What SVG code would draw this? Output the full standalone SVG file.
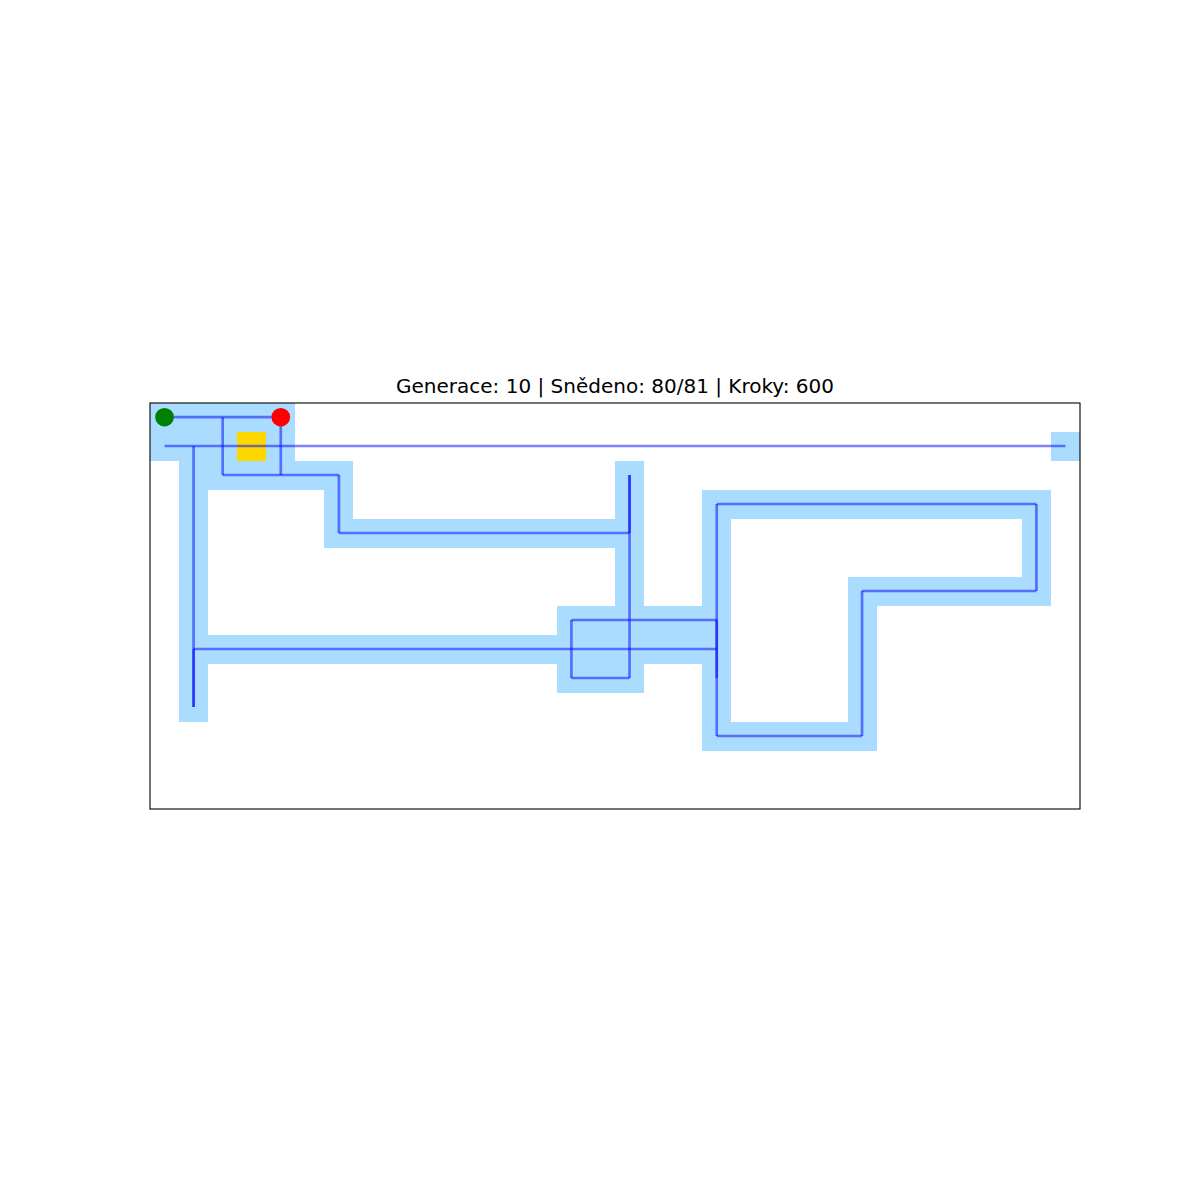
<svg xmlns="http://www.w3.org/2000/svg" width="1200" height="1200" viewBox="0 0 1200 1200">
<style>
.cell{fill:#aadcff;shape-rendering:crispEdges;}
.food{fill:#ffd700;shape-rendering:crispEdges;}
.seg{stroke:#0000ff;stroke-opacity:0.5;stroke-width:2.7;fill:none;stroke-linecap:butt;}
.title{font-family:"DejaVu Sans",sans-serif;font-size:20px;fill:#000;}
</style>
<rect width="1200" height="1200" fill="#fff"/>
<text class="title" x="615" y="393" text-anchor="middle">Generace: 10 | Snědeno: 80/81 | Kroky: 600</text>
<g id="body">
<rect class="cell" x="150" y="403" width="145.31" height="57.5"/>
<rect class="cell" x="1050.94" y="431.5" width="29.06" height="29"/>
<rect class="cell" x="179.06" y="460.5" width="174.38" height="29"/>
<rect class="cell" x="179.06" y="489.5" width="29.06" height="232"/>
<rect class="cell" x="324.38" y="489.5" width="29.06" height="58"/>
<rect class="cell" x="324.38" y="518.5" width="319.69" height="29"/>
<rect class="cell" x="615" y="460.5" width="29.06" height="232"/>
<rect class="cell" x="702.19" y="489.5" width="348.75" height="29"/>
<rect class="cell" x="702.19" y="489.5" width="29.06" height="261"/>
<rect class="cell" x="1021.88" y="489.5" width="29.06" height="116"/>
<rect class="cell" x="847.5" y="576.5" width="203.44" height="29"/>
<rect class="cell" x="847.5" y="576.5" width="29.06" height="174"/>
<rect class="cell" x="702.19" y="721.5" width="174.38" height="29"/>
<rect class="cell" x="556.88" y="605.5" width="87.19" height="87"/>
<rect class="cell" x="556.88" y="605.5" width="174.38" height="58"/>
<rect class="cell" x="179.06" y="634.5" width="552.19" height="29"/>
</g>
<g id="food">
<rect class="food" x="237.19" y="431.5" width="29.06" height="29"/>
</g>
<g id="connectors">
<line class="seg" x1="164.53" y1="417.2" x2="280.78" y2="417.2"/>
<line class="seg" x1="222.66" y1="417.2" x2="222.66" y2="475"/>
<line class="seg" x1="280.78" y1="417.2" x2="280.78" y2="475"/>
<line class="seg" x1="222.66" y1="475" x2="338.91" y2="475"/>
<line class="seg" x1="338.91" y1="475" x2="338.91" y2="533"/>
<line class="seg" x1="338.91" y1="533" x2="629.53" y2="533"/>
<line class="seg" x1="629.53" y1="475" x2="629.53" y2="678"/>
<line class="seg" x1="629.53" y1="475" x2="629.53" y2="533"/>
<line class="seg" x1="164.53" y1="446" x2="1065.47" y2="446"/>
<line class="seg" x1="193.59" y1="446" x2="193.59" y2="707"/>
<line class="seg" x1="193.59" y1="649" x2="193.59" y2="707"/>
<line class="seg" x1="193.59" y1="649" x2="716.72" y2="649"/>
<line class="seg" x1="571.41" y1="620" x2="716.72" y2="620"/>
<line class="seg" x1="571.41" y1="620" x2="571.41" y2="678"/>
<line class="seg" x1="571.41" y1="678" x2="629.53" y2="678"/>
<line class="seg" x1="716.72" y1="504" x2="716.72" y2="736"/>
<line class="seg" x1="716.72" y1="620" x2="716.72" y2="678"/>
<line class="seg" x1="716.72" y1="504" x2="1036.41" y2="504"/>
<line class="seg" x1="1036.41" y1="504" x2="1036.41" y2="591"/>
<line class="seg" x1="862.03" y1="591" x2="1036.41" y2="591"/>
<line class="seg" x1="862.03" y1="591" x2="862.03" y2="736"/>
<line class="seg" x1="716.72" y1="736" x2="862.03" y2="736"/>
</g>
<g id="head">
<circle cx="164.53" cy="417.2" r="9.3" fill="#008000"/>
</g>
<g id="tail">
<circle cx="280.78" cy="417.2" r="9.3" fill="#ff0000"/>
</g>
<rect x="150" y="403" width="930" height="406" fill="none" stroke="#000" stroke-width="1.1"/>
</svg>
